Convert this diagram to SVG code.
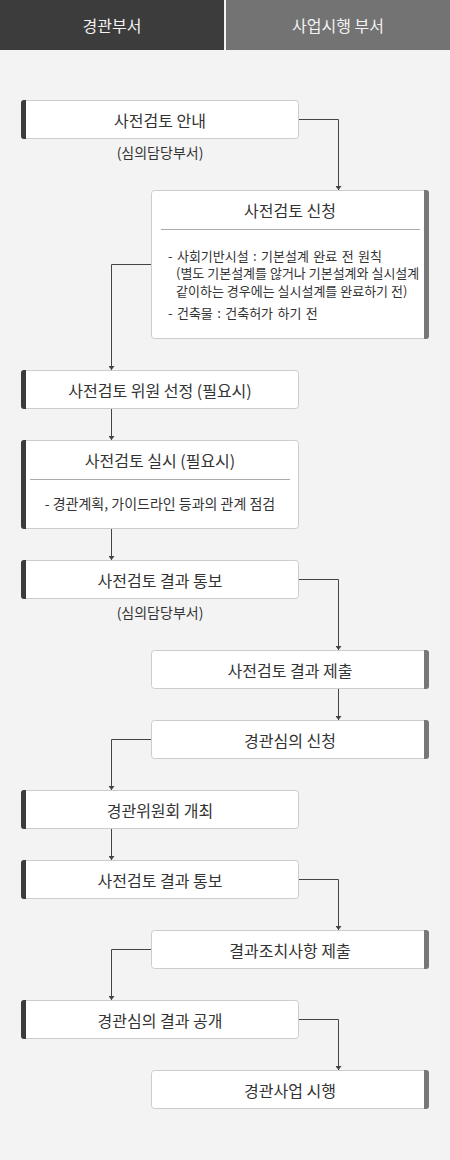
<svg xmlns="http://www.w3.org/2000/svg" width="450" height="1160" viewBox="0 0 450 1160">
<style>
.t{font-family:"Noto Sans CJK KR","Noto Sans",sans-serif;fill:#333;font-size:16px;text-anchor:middle;dominant-baseline:central}
.h{font-family:"Noto Sans CJK KR","Noto Sans",sans-serif;fill:#f2f2f2;font-size:16px;text-anchor:middle;dominant-baseline:central}
.s{font-family:"Noto Sans CJK KR","Noto Sans",sans-serif;fill:#333;font-size:14px;text-anchor:middle;dominant-baseline:central}
.b{font-family:"Noto Sans CJK KR","Noto Sans",sans-serif;fill:#333;font-size:13px;dominant-baseline:central}
.w{word-spacing:1.5px}
.box{fill:#fff;stroke:#ccc;stroke-width:1}
.lb{fill:#3c3c3c}
.rb{fill:#777}
.sep{stroke:#aaa;stroke-width:1}
.c{fill:none;stroke:#444;stroke-width:1;marker-end:url(#ah)}
</style>
<defs>
<marker id="ah" viewBox="0 0 4 6" refX="4" refY="3" markerWidth="4" markerHeight="6" markerUnits="userSpaceOnUse" orient="auto">
<path d="M0,0 L4,3 L0,6 Z" fill="#444"/>
</marker>
</defs>
<rect x="0" y="0" width="450" height="1160" fill="#f3f3f3"/>
<g id="header">
<rect x="0" y="0" width="224" height="50" fill="#3c3c3c"/>
<rect x="226" y="0" width="224" height="50" fill="#737373"/>
<text class="h" x="112" y="25">경관부서</text>
<text class="h" x="338" y="25">사업시행 부서</text>
</g>
<g id="connectors">
<path class="c" d="M299,119.5 H338.5 V190"/>
<path class="c" d="M151,264.5 H111.5 V370"/>
<path class="c" d="M111.5,409 V440"/>
<path class="c" d="M111.5,529 V560"/>
<path class="c" d="M299,579.5 H338.5 V650"/>
<path class="c" d="M338.5,689 V720"/>
<path class="c" d="M151,739.5 H111.5 V790"/>
<path class="c" d="M111.5,829 V860"/>
<path class="c" d="M299,879.5 H338.5 V930"/>
<path class="c" d="M151,949.5 H111.5 V1000"/>
<path class="c" d="M299,1019.5 H338.5 V1070"/>
</g>
<g id="n1">
<rect class="box" x="21.5" y="100.5" width="277" height="38" rx="3"/>
<path class="lb" d="M24,100 H26 V139 H24 A3,3 0 0 1 21,136 V103 A3,3 0 0 1 24,100 Z"/>
<text class="t" x="160" y="120">사전검토 안내</text>
<text class="s" x="160" y="152">(심의담당부서)</text>
</g>
<g id="n2">
<rect class="box" x="151.5" y="190.5" width="277" height="148" rx="3"/>
<path class="rb" d="M424,190 H426 A3,3 0 0 1 429,193 V336 A3,3 0 0 1 426,339 H424 Z"/>
<text class="t" x="290" y="210">사전검토 신청</text>
<line class="sep" x1="161" y1="229.5" x2="420" y2="229.5"/>
<text class="b w" x="168" y="255">- 사회기반시설 : 기본설계 완료 전 원칙</text>
<text class="b" x="176" y="272.5">(별도 기본설계를 않거나 기본설계와 실시설계</text>
<text class="b" x="176" y="290">같이하는 경우에는 실시설계를 완료하기 전)</text>
<text class="b w" x="168" y="312.5">- 건축물 : 건축허가 하기 전</text>
</g>
<g id="n3">
<rect class="box" x="21.5" y="370.5" width="277" height="38" rx="3"/>
<path class="lb" d="M24,370 H26 V409 H24 A3,3 0 0 1 21,406 V373 A3,3 0 0 1 24,370 Z"/>
<text class="t" x="160" y="390">사전검토 위원 선정 (필요시)</text>
</g>
<g id="n4">
<rect class="box" x="21.5" y="440.5" width="277" height="88" rx="3"/>
<path class="lb" d="M24,440 H26 V529 H24 A3,3 0 0 1 21,526 V443 A3,3 0 0 1 24,440 Z"/>
<text class="t" x="160" y="460">사전검토 실시 (필요시)</text>
<line class="sep" x1="30" y1="479.5" x2="290" y2="479.5"/>
<text class="s" x="160" y="503">- 경관계획, 가이드라인 등과의 관계 점검</text>
</g>
<g id="n5">
<rect class="box" x="21.5" y="560.5" width="277" height="38" rx="3"/>
<path class="lb" d="M24,560 H26 V599 H24 A3,3 0 0 1 21,596 V563 A3,3 0 0 1 24,560 Z"/>
<text class="t" x="160" y="580">사전검토 결과 통보</text>
<text class="s" x="160" y="612">(심의담당부서)</text>
</g>
<g id="n6">
<rect class="box" x="151.5" y="650.5" width="277" height="38" rx="3"/>
<path class="rb" d="M424,650 H426 A3,3 0 0 1 429,653 V686 A3,3 0 0 1 426,689 H424 Z"/>
<text class="t" x="290" y="670">사전검토 결과 제출</text>
</g>
<g id="n7">
<rect class="box" x="151.5" y="720.5" width="277" height="38" rx="3"/>
<path class="rb" d="M424,720 H426 A3,3 0 0 1 429,723 V756 A3,3 0 0 1 426,759 H424 Z"/>
<text class="t" x="290" y="740">경관심의 신청</text>
</g>
<g id="n8">
<rect class="box" x="21.5" y="790.5" width="277" height="38" rx="3"/>
<path class="lb" d="M24,790 H26 V829 H24 A3,3 0 0 1 21,826 V793 A3,3 0 0 1 24,790 Z"/>
<text class="t" x="160" y="810">경관위원회 개최</text>
</g>
<g id="n9">
<rect class="box" x="21.5" y="860.5" width="277" height="38" rx="3"/>
<path class="lb" d="M24,860 H26 V899 H24 A3,3 0 0 1 21,896 V863 A3,3 0 0 1 24,860 Z"/>
<text class="t" x="160" y="880">사전검토 결과 통보</text>
</g>
<g id="n10">
<rect class="box" x="151.5" y="930.5" width="277" height="38" rx="3"/>
<path class="rb" d="M424,930 H426 A3,3 0 0 1 429,933 V966 A3,3 0 0 1 426,969 H424 Z"/>
<text class="t" x="290" y="950">결과조치사항 제출</text>
</g>
<g id="n11">
<rect class="box" x="21.5" y="1000.5" width="277" height="38" rx="3"/>
<path class="lb" d="M24,1000 H26 V1039 H24 A3,3 0 0 1 21,1036 V1003 A3,3 0 0 1 24,1000 Z"/>
<text class="t" x="160" y="1020">경관심의 결과 공개</text>
</g>
<g id="n12">
<rect class="box" x="151.5" y="1070.5" width="277" height="38" rx="3"/>
<path class="rb" d="M424,1070 H426 A3,3 0 0 1 429,1073 V1106 A3,3 0 0 1 426,1109 H424 Z"/>
<text class="t" x="290" y="1090">경관사업 시행</text>
</g>
</svg>
